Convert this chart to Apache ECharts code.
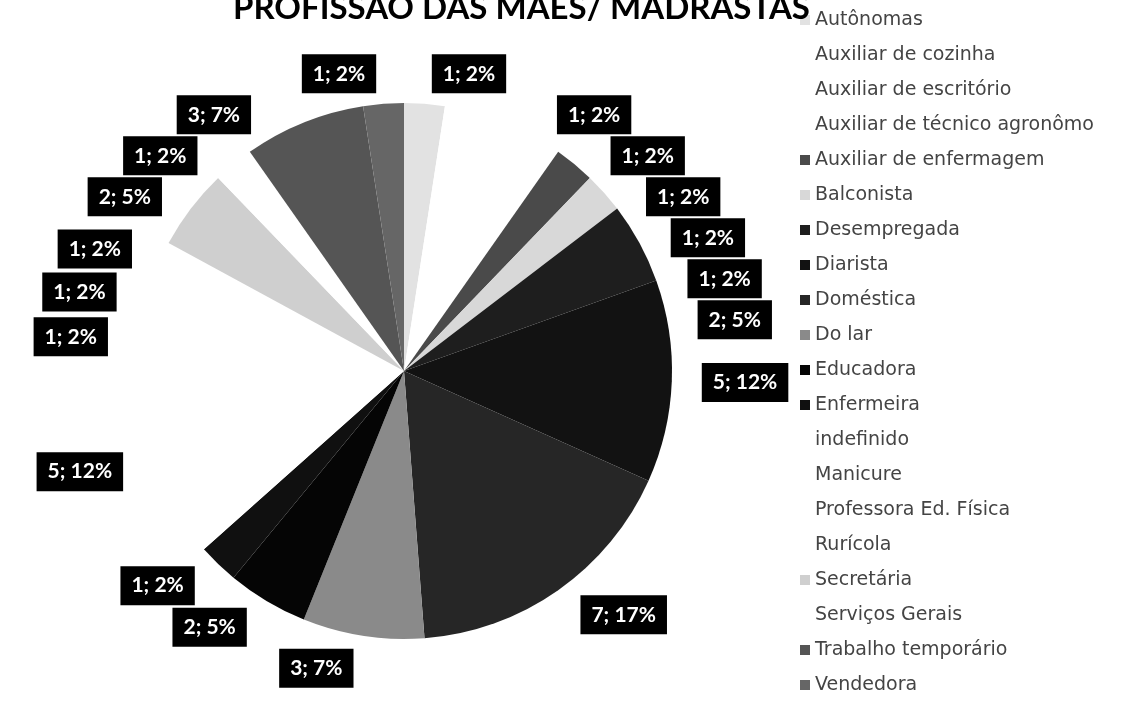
<!DOCTYPE html>
<html>
<head>
<meta charset="utf-8">
<title>Profissão das mães</title>
<script src="https://cdn.jsdelivr.net/npm/echarts@6/dist/echarts.min.js"></script>
<style>
  html, body { margin: 0; padding: 0; background: #fff; }
  #main { width: 1129px; height: 702px; }
</style>
</head>
<body>
<div id="main"></div>
<script type="text/javascript">
    // categorias na ordem da legenda (sentido horário a partir do topo)
    var categorias = [
        'Autônomas', 'Auxiliar de cozinha', 'Auxiliar de escritório',
        'Auxiliar de técnico agronômo', 'Auxiliar de enfermagem', 'Balconista',
        'Desempregada', 'Diarista', 'Doméstica', 'Do lar', 'Educadora',
        'Enfermeira', 'indefinido', 'Manicure', 'Professora Ed. Física',
        'Rurícola', 'Secretária', 'Serviços Gerais', 'Trabalho temporário',
        'Vendedora'
    ];
    var valores = [1, 1, 1, 1, 1, 1, 2, 5, 7, 3, 2, 1, 5, 1, 1, 1, 2, 1, 3, 1];
    var cores = [
        '#e2e2e2', '#ffffff', '#ffffff', '#ffffff', '#4a4a4a', '#d8d8d8',
        '#1e1e1e', '#121212', '#262626', '#8a8a8a', '#050505', '#101010',
        '#ffffff', '#ffffff', '#ffffff', '#ffffff', '#cfcfcf', '#ffffff',
        '#555555', '#666666'
    ];

    var total = valores.reduce(function (a, b) { return a + b; }, 0);
    var dados = categorias.map(function (nome, i) {
        return { name: nome, value: valores[i], itemStyle: { color: cores[i] } };
    });

    var myChart = echarts.init(document.getElementById('main'));
    myChart.setOption({
        backgroundColor: '#fff',
        animation: false,
        title: {
            text: 'PROFISSÃO DAS MÃES/ MADRASTAS',
            left: 228,
            top: -13,
            textStyle: {
                fontFamily: 'Lato',
                fontSize: 33,
                fontWeight: 'bold',
                color: '#000'
            }
        },
        legend: {
            orient: 'vertical',
            left: 800,
            top: 10,
            height: 700,
            padding: 0,
            itemWidth: 10,
            itemHeight: 10,
            itemGap: 15,
            icon: 'rect',
            selectedMode: false,
            textStyle: {
                fontFamily: 'DejaVu Sans',
                fontSize: 19,
                lineHeight: 20,
                color: '#444'
            },
            data: categorias
        },
        series: [{
            type: 'pie',
            center: [404, 371],
            radius: 268,
            startAngle: 90,
            clockwise: true,
            avoidLabelOverlap: true,
            itemStyle: { borderWidth: 0 },
            label: {
                show: true,
                position: 'outside',
                formatter: function (p) {
                    return p.value + '; ' + Math.round(p.value / total * 100) + '%';
                },
                backgroundColor: '#000',
                color: '#fff',
                fontFamily: 'Lato',
                fontWeight: 'bold',
                fontSize: 21,
                padding: [9, 11]
            },
            labelLine: { show: false, length: 30, length2: 0 },
            data: dados
        }]
    });
</script>
</body>
</html>
